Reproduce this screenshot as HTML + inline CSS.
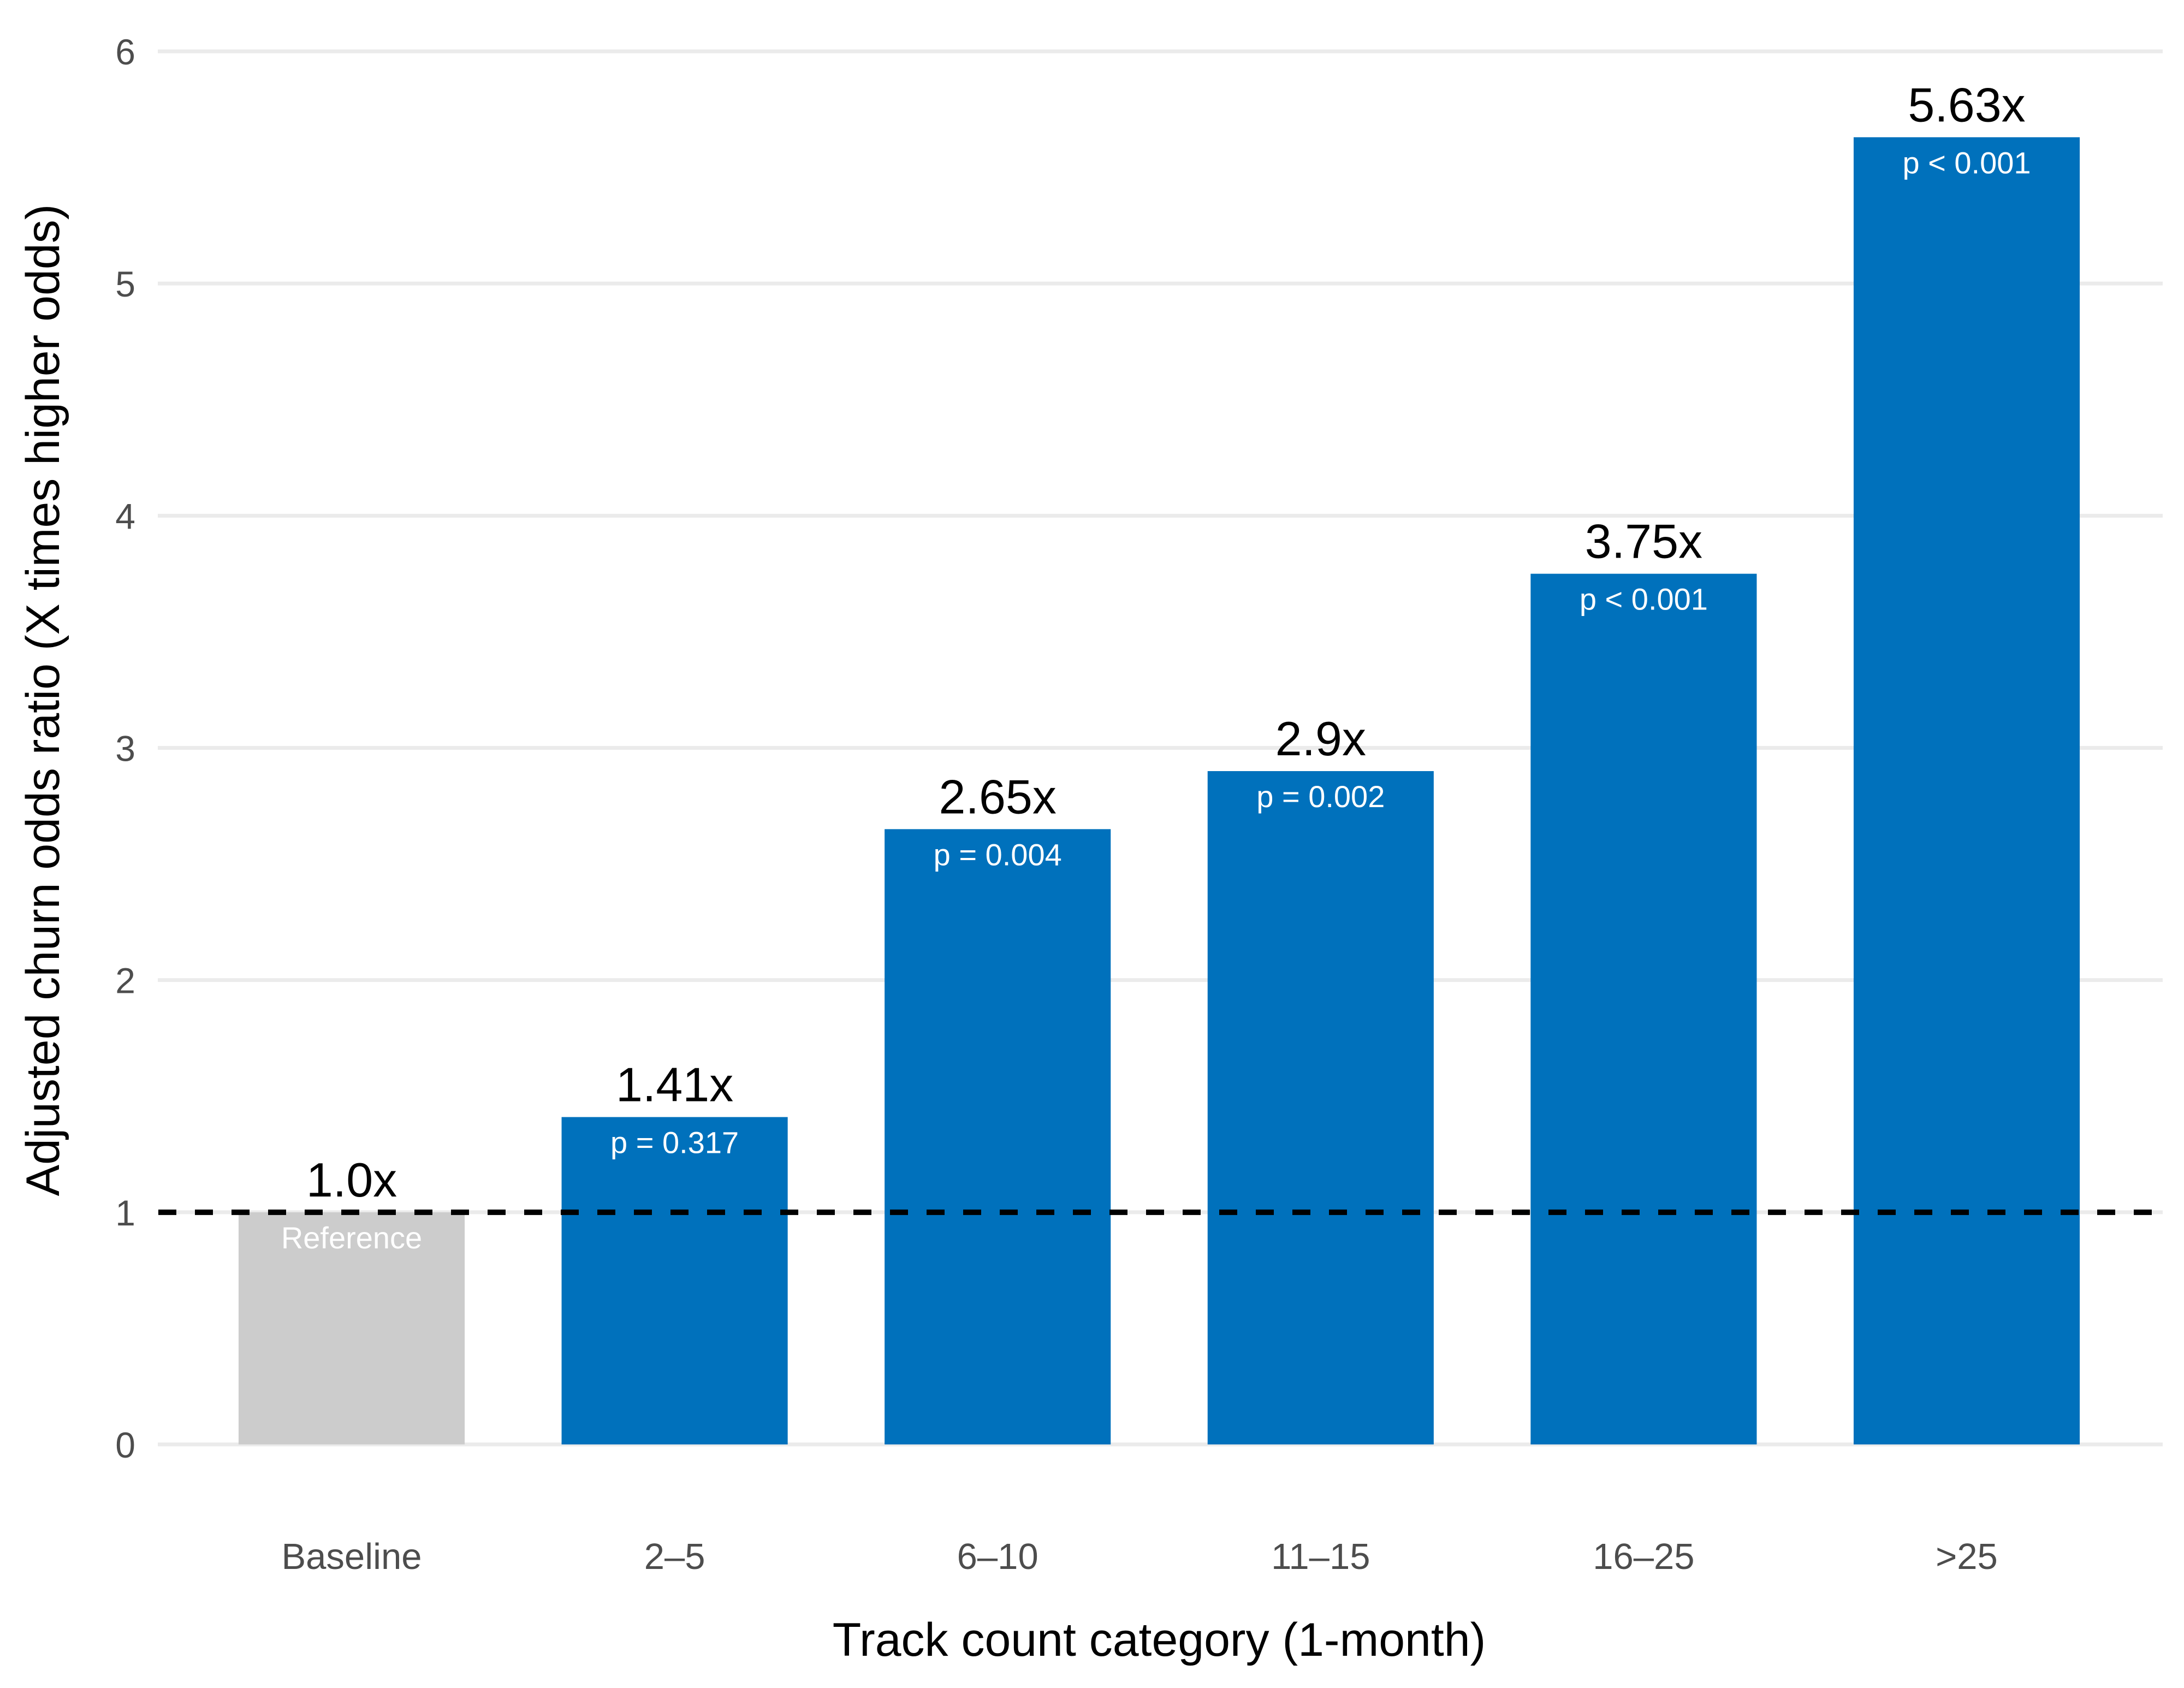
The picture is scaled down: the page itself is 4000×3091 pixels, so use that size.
<!DOCTYPE html>
<html><head><meta charset="utf-8"><style>
html,body{margin:0;padding:0;background:#fff;}
svg{display:block;font-family:"Liberation Sans",Arial,sans-serif;}
</style></head><body>
<svg id="chart" width="4000" height="3091" viewBox="0 0 4000 3091" xmlns="http://www.w3.org/2000/svg">
<rect width="4000" height="3091" fill="#ffffff"/>
<g id="grid"></g>
<g id="bars"></g>
<g id="labels"></g>
<g id="refline"></g>
<g id="axes"></g>
<text x="2123" y="3032" font-size="86" text-anchor="middle" fill="#000">Track count category (1-month)</text>
<text transform="translate(108,1282) rotate(-90)" font-size="86" text-anchor="middle" fill="#000">Adjusted churn odds ratio (X times higher odds)</text>
</svg>
<script>
const categories = ["Baseline", "2–5", "6–10", "11–15", "16–25", ">25"];
const oddsRatios = [1.0, 1.41, 2.65, 2.9, 3.75, 5.63];
const valueLabels = ["1.0x", "1.41x", "2.65x", "2.9x", "3.75x", "5.63x"];
const pLabels = ["Reference", "p = 0.317", "p = 0.004", "p = 0.002", "p < 0.001", "p < 0.001"];
const yTicks = [0, 1, 2, 3, 4, 5, 6];
const refValue = 1;

const NS = "http://www.w3.org/2000/svg";
const plotL = 289, plotR = 3961, y0px = 2645, y6px = 94;
const yMin = 0, yMax = 6;
function y(v){ return y0px - (v - yMin) / (yMax - yMin) * (y0px - y6px); }
const step = 591.6;
function xc(i){ return 644 + step * i; }
const barW = step * 0.7;
function mk(tag, attrs, parent){ const e = document.createElementNS(NS, tag); for (const k in attrs) e.setAttribute(k, attrs[k]); parent.appendChild(e); return e; }

const grid = document.getElementById("grid"), axes = document.getElementById("axes");
yTicks.forEach(t => {
  const l = mk("line", {x1: plotL, x2: plotR, y1: y(t), y2: y(t), stroke: "#ebebeb", "stroke-width": 7}, grid);
  
  
  const tx = mk("text", {x: 248, y: y(t) + 24, "font-size": 66, "text-anchor": "end", fill: "#4d4d4d"}, axes);
  tx.textContent = t;
  
  
});

const bars = document.getElementById("bars"), labels = document.getElementById("labels");
categories.forEach((c, i) => {
  const v = oddsRatios[i];
  const r = mk("rect", {x: xc(i) - barW / 2, y: y(v), width: barW, height: y(0) - y(v), fill: i === 0 ? "#cccccc" : "#0071bc"}, bars);
  
  
  const vl = mk("text", {x: xc(i), y: y(v) - 29, "font-size": 88, "text-anchor": "middle", fill: "#000"}, labels);
  vl.textContent = valueLabels[i];
  
  
  const pl = mk("text", {x: xc(i), y: y(v) + 66, "font-size": 56, "text-anchor": "middle", fill: "#fff"}, labels);
  pl.textContent = pLabels[i];
  
  
  const xl = mk("text", {x: xc(i), y: 2873, "font-size": 67, "text-anchor": "middle", fill: "#4d4d4d"}, axes);
  xl.textContent = c;
  
  
});

const ref = mk("line", {x1: 290, x2: plotR, y1: y(refValue), y2: y(refValue), stroke: "#000", "stroke-width": 10, "stroke-dasharray": "33 34"}, document.getElementById("refline"));


</script>
</body></html>
